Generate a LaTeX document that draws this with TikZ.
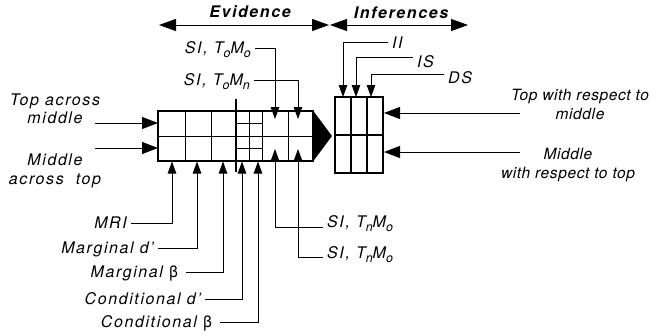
\documentclass[tikz,border=0pt]{standalone}
\usepackage{fontspec}
\setmainfont{TeX Gyre Heros}[LetterSpace=10]
\newfontfamily\tightfont{TeX Gyre Heros}[LetterSpace=4]
\usetikzlibrary{arrows.meta}
\newcommand\lowsub[1]{\raisebox{-4pt}{\fontsize{12.5}{13}\selectfont #1}}
\begin{document}
\begin{tikzpicture}[x=1pt,y=-1pt,
  lbl/.style={font=\fontsize{16}{18}\selectfont\itshape, inner xsep=4pt, inner ysep=0pt, text height=11pt, text depth=0pt},
  mlbl/.style={font=\fontsize{16}{18.5}\selectfont\itshape, align=center, inner sep=0pt},
  rlbl/.style={font=\tightfont\fontsize{15.5}{19}\selectfont\itshape, align=center, inner sep=0pt},
  hdr/.style={font=\fontsize{16}{18}\selectfont\bfseries\itshape, inner sep=0pt},
  big/.style={-{Triangle[length=16pt,width=12pt]}, line width=0.9pt},
  small/.style={-{Triangle[length=12pt,width=8.5pt]}, line width=0.9pt},
  hdrarrow/.style={{Triangle[length=17pt,width=12pt]}-{Triangle[length=17pt,width=12pt]}, line width=0.9pt},
  thin/.style={line width=0.8pt}
]
\useasboundingbox (0,0) rectangle (663,335);

% ---------- evidence box ----------
\draw[line width=1.1pt] (158,111) rectangle (313,161);
\draw[thin] (158,136) -- (313,136);
\foreach \x in {185,211,249,262,288} \draw[thin] (\x,111) -- (\x,161);
\draw[thin] (236,123) -- (262,123) (236,148) -- (262,148);
\draw[line width=2pt] (236,99) -- (236,172);
\fill (313,110.5) -- (332,136) -- (313,161.5) -- cycle;

% ---------- inference box ----------
\draw[line width=1.4pt] (335,135) -- (383,135) (351,97) -- (351,173) (367,97) -- (367,173);
\draw[line width=2pt] (335,97) rectangle (383,173);

% ---------- headers ----------
\coordinate (evL) at (159,25);
\coordinate (evR) at (329,25);
\coordinate (inL) at (330,25);
\coordinate (inR) at (468,25);
\draw[hdrarrow] (evL) -- (evR);
\draw[hdrarrow] (inL) -- (inR);
\node[hdr] (ev) at (250,12) {Evidence};
\node[hdr] (inf) at (401,13) {Inferences};

% ---------- left inputs ----------
\node[mlbl] (tam) at (55,109) {Top across\\middle};
\node[mlbl] (mat) at (55,171) {Middle\\across\ \ top};
\coordinate (tamS) at (95,123);
\coordinate (tamE) at (158,123);
\coordinate (matS) at (95,148);
\coordinate (matE) at (158,148);
\draw[big] (tamS) -- (tamE);
\draw[big] (matS) -- (matE);

% ---------- right inputs ----------
\node[rlbl] (twr) at (580,104) {Top with respect to\\middle};
\node[rlbl] (mwr) at (568,165) {Middle\\with respect to top};
\coordinate (twrS) at (520,113);
\coordinate (twrE) at (384,113);
\coordinate (mwrS) at (520,152);
\coordinate (mwrE) at (384,152);
\draw[big] (twrS) -- (twrE);
\draw[big] (mwrS) -- (mwrE);

% ---------- top evidence labels ----------
\node[lbl, anchor=east] (soo) at (255,48) {SI, T\lowsub{o}M\lowsub{o}};
\node[lbl, anchor=east] (son) at (254,80) {SI, T\lowsub{o}M\lowsub{n}};
\coordinate (tA) at (275,119);
\coordinate (tB) at (298,119);
\draw[small] (soo.east) -| (tA);
\draw[small] (son.east) -| (tB);

% ---------- bottom right evidence labels ----------
\node[lbl, anchor=west] (snA) at (323,222) {SI, T\lowsub{n}M\lowsub{o}};
\node[lbl, anchor=west] (snB) at (323,253) {SI, T\lowsub{n}M\lowsub{o}};
\coordinate (bA) at (275,149);
\coordinate (bB) at (298,149);
\draw[small] ([yshift=-5pt]snA.west) -| (bA);
\draw[small] ([yshift=-4pt]snB.west) -| (bB);

% ---------- inference labels ----------
\node[lbl, anchor=west] (ii) at (388,43) {II};
\node[lbl, anchor=west] (is) at (413,62) {IS};
\node[lbl, anchor=west] (ds) at (444,78) {DS};
\coordinate (iA) at (343,97);
\coordinate (iB) at (356,97);
\coordinate (iC) at (371,97);
\draw[small] ([yshift=1pt]ii.west) -| (iA);
\draw[small] ([yshift=5pt]is.west) -| (iB);
\draw[small] ([yshift=4pt]ds.west) -| (iC);

% ---------- bottom left labels ----------
\node[lbl, anchor=east] (mri) at (131,223) {MRI};
\node[lbl, anchor=east] (mdp) at (158,248) {Marginal d'};
\node[lbl, anchor=east, inner xsep=8pt] (mb) at (186,272) {Marginal {\upshape β}};
\node[lbl, anchor=east] (cdp) at (205,299) {Conditional d'};
\node[lbl, anchor=east, inner xsep=8pt] (cb) at (220,322) {Conditional {\upshape β}};
\coordinate (b1) at (172,161.5);
\coordinate (b2) at (197,161.5);
\coordinate (b3) at (223,161.5);
\coordinate (b4) at (242,161.5);
\coordinate (b5) at (258,161.5);
\draw[small] (mri.east) -| (b1);
\draw[small] (mdp.east) -| (b2);
\draw[small] (mb.east) -| (b3);
\draw[small] (cdp.east) -| (b4);
\draw[small] (cb.east) -| (b5);
\end{tikzpicture}
\end{document}
